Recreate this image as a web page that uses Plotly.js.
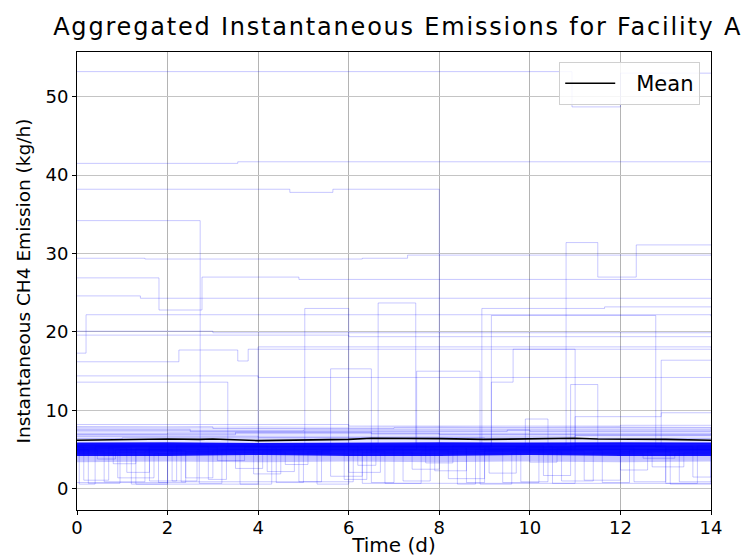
<!DOCTYPE html>
<html>
<head>
<meta charset="utf-8">
<script src="https://cdn.plot.ly/plotly-3.0.1.min.js"></script>
<style>
  html, body { margin: 0; padding: 0; background: #fff; }
  #chart { width: 749px; height: 557px; }
  .gtitle { letter-spacing: 1.8px; }
</style>
</head>
<body>
<div id="chart"></div>
<script>
// ---- Axis ticks ----
const xTicks = [0, 2, 4, 6, 8, 10, 12, 14];
const yTicks = [0, 10, 20, 30, 40, 50];

// ---- Mean of all realisations (kg/h) ----
const meanX = [0, 1, 2, 2.7, 3, 4, 5, 6, 6.5, 7, 8, 9, 10, 11, 11.5, 12, 13, 14];
const meanY = [6.2, 6.3, 6.35, 6.3, 6.35, 6.15, 6.25, 6.3, 6.45, 6.45, 6.4, 6.3, 6.35, 6.45, 6.35, 6.35, 6.3, 6.2];

// ---- Dense core of the realisations ----
const bandX  = [0, 2, 4, 6, 8, 10, 12, 14];
const bandLo = [4.2, 4.2, 4.3, 4.2, 4.2, 4.3, 4.2, 4.2];
const bandHi = [5.9, 5.95, 5.85, 5.9, 5.95, 5.9, 5.95, 5.9];
// lighter fringes either side of the core
const fringeTopHi = [8.0, 7.9, 8.0, 7.9, 8.0, 7.9, 8.0, 7.9];
const fringeLowLo = [3.4, 3.5, 3.4, 3.5, 3.4, 3.5, 3.4, 3.5];

// ---- Individual high-emission realisations (step functions) ----
const run01X = [0, 10.93, 12.0, 14],            run01Y = [53.2, 48.7, 53.0, 53.0];
const run02X = [0, 3.55, 14],                   run02Y = [41.5, 41.7, 41.7];
const run03X = [0, 4.7, 5.65, 8.0, 14],         run03Y = [38.2, 37.8, 38.2, 5.8, 5.8];
const run04X = [0, 2.72, 14],                   run04Y = [34.2, 5.4, 5.4];
const run05X = [0, 1.5, 6.3, 7.3, 14],          run05Y = [29.4, 29.3, 29.4, 29.8, 29.9];
const run06X = [0, 1.81, 2.76, 4.9, 14],        run06Y = [26.9, 22.8, 27.0, 26.7, 26.6];
const run07X = [0, 1.4, 14],                    run07Y = [24.6, 24.3, 24.3];
const run08X = [0, 0.2, 14],                    run08Y = [17.3, 22.2, 22.0];
const run09X = [0, 10.8, 11.5, 12.35, 14],      run09Y = [5.6, 31.4, 27.0, 31.1, 31.1];
const run10X = [0, 5.03, 6.0, 14],              run10Y = [5.2, 23.0, 5.2, 5.2];
const run11X = [0, 2.25, 3.55, 3.78, 14],       run11Y = [16.2, 17.7, 16.3, 17.8, 17.8];
const run12X = [0, 6.0, 14],                    run12Y = [19.6, 19.4, 19.4];
const run13X = [0, 3.0, 14],                    run13Y = [20.1, 19.9, 19.9];
const run14X = [0, 4.0, 14],                    run14Y = [14.4, 14.2, 14.2];
const run15X = [0, 3.33, 14],                   run15Y = [13.6, 5.0, 5.0];
const run16X = [0, 6.65, 7.48, 14],             run16Y = [5.8, 23.7, 5.8, 5.8];
const run17X = [0, 5.6, 6.5, 14],               run17Y = [4.8, 15.3, 4.8, 4.8];
const run18X = [0, 7.5, 8.9, 14],               run18Y = [5.0, 15.0, 5.0, 5.0];
const run19X = [0, 9.15, 12.78, 14],            run19Y = [5.3, 22.1, 5.3, 5.3];
const run20X = [0, 9.15, 9.63, 11.0, 14],       run20Y = [5.5, 13.6, 17.8, 5.5, 5.5];
const run21X = [0, 8.94, 11.65, 14],            run21Y = [5.7, 23.0, 23.2, 23.2];
const run22X = [0, 11.0, 12.9, 14],             run22Y = [5.2, 9.2, 9.7, 9.7];
const run23X = [0, 9.9, 10.4, 14],              run23Y = [5.4, 8.9, 5.4, 5.4];
const run24X = [0, 10.9, 11.5, 14],             run24Y = [5.0, 13.3, 5.0, 5.0];
const run25X = [0, 4.0, 14],                    run25Y = [5.6, 18.1, 18.0];
const run26X = [0, 12.9, 14],                   run26Y = [5.4, 16.4, 16.4];

// ---- Realisations just above the core ----
const hz01X = [0, 3, 7, 14],  hz01Y = [7.9, 7.7, 7.8, 7.6];
const hz02X = [0, 5, 10, 14], hz02Y = [7.4, 7.5, 7.3, 7.3];
const hz03X = [0, 2, 8, 14],  hz03Y = [7.0, 7.1, 6.9, 7.0];
const hz04X = [0, 4, 11, 14], hz04Y = [6.7, 6.6, 6.8, 6.8];
const hz05X = [0, 6, 12, 14], hz05Y = [8.2, 8.0, 8.1, 8.1];
const hz06X = [0, 1, 9, 14],  hz06Y = [6.4, 6.5, 6.4, 6.4];
const hz07X = [0, 2.5, 9.5, 14], hz07Y = [7.6, 7.3, 7.5, 7.4];
const hz08X = [0, 3.5, 6.5, 14], hz08Y = [6.9, 7.2, 7.0, 7.1];

// ---- Realisations with shut-in periods (dips) ----
const dip01X = [0, 0.25, 0.95, 2.1, 2.65, 5.3, 6.0, 9.4, 10.2, 14];
const dip01Y = [5.0, 0.7, 5.0, 1.0, 5.0, 0.6, 5.0, 0.8, 5.0, 5.0];
const dip02X = [0, 0.6, 1.5, 3.5, 4.1, 6.8, 7.6, 11.2, 12.0, 13.1, 14];
const dip02Y = [4.8, 0.9, 4.8, 2.6, 4.8, 0.7, 4.8, 1.1, 4.8, 0.6, 4.8];
const dip03X = [0, 1.1, 1.6, 4.4, 5.0, 7.9, 8.6, 12.3, 13.0, 14];
const dip03Y = [5.2, 2.1, 5.2, 0.8, 5.2, 2.3, 5.2, 0.9, 5.2, 5.2];
const dip04X = [0, 0.05, 0.4, 2.9, 3.3, 6.2, 6.6, 10.5, 11.0, 13.6, 14];
const dip04Y = [5.4, 0.6, 5.4, 1.2, 5.4, 3.0, 5.4, 0.7, 5.4, 1.5, 5.4];
const dip05X = [0, 1.8, 2.4, 5.6, 6.3, 8.9, 9.6, 12.7, 13.4, 14];
const dip05Y = [4.6, 0.8, 4.6, 1.6, 4.6, 0.6, 4.6, 2.8, 4.6, 4.6];
const dip06X = [0, 0.8, 1.3, 3.9, 4.5, 7.2, 7.8, 10.0, 10.6, 14];
const dip06Y = [5.1, 3.2, 5.1, 1.9, 5.1, 1.0, 5.1, 3.4, 5.1, 5.1];
const dip07X = [0, 2.4, 3.0, 4.9, 5.4, 8.2, 9.0, 11.6, 12.2, 14];
const dip07Y = [4.9, 1.4, 4.9, 0.9, 4.9, 1.3, 4.9, 0.8, 4.9, 4.9];
const dip08X = [0, 0.15, 0.7, 3.1, 3.7, 6.5, 7.0, 9.1, 9.7, 13.3, 14];
const dip08Y = [5.3, 1.1, 5.3, 3.6, 5.3, 0.8, 5.3, 2.0, 5.3, 0.9, 5.3];
const dip09X = [0, 1.3, 2.0, 4.6, 5.1, 7.4, 8.0, 10.7, 11.4, 14];
const dip09Y = [4.7, 0.6, 4.7, 3.1, 4.7, 2.5, 4.7, 1.0, 4.7, 4.7];
const dip10X = [0, 0.45, 0.85, 2.7, 3.2, 5.9, 6.4, 8.4, 8.8, 12.0, 12.6, 14];
const dip10Y = [5.0, 3.8, 5.0, 0.7, 5.0, 1.2, 5.0, 0.6, 5.0, 2.4, 5.0, 5.0];
const dip11X = [0, 1.6, 2.2, 4.2, 4.8, 7.7, 8.3, 10.3, 10.9, 13.0, 13.7, 14];
const dip11Y = [5.5, 1.0, 5.5, 2.2, 5.5, 3.3, 5.5, 1.7, 5.5, 0.7, 5.5, 5.5];
const dip12X = [0, 0.9, 1.7, 3.6, 4.0, 6.0, 6.7, 9.8, 10.4, 12.5, 13.2, 14];
const dip12Y = [4.5, 1.4, 4.5, 0.6, 4.5, 2.1, 4.5, 0.9, 4.5, 3.9, 4.5, 4.5];
const low01X = [0, 2.0, 2.3, 6.1, 6.3, 14];
const low01Y = [0.8, 5.0, 0.9, 5.0, 0.7, 0.7];
const low02X = [0, 1.2, 4.3, 8.6, 9.0, 14];
const low02Y = [5.2, 0.6, 5.2, 0.8, 5.2, 5.2];

const runs = [
  [run01X, run01Y], [run02X, run02Y], [run03X, run03Y], [run04X, run04Y],
  [run05X, run05Y], [run06X, run06Y], [run07X, run07Y], [run08X, run08Y],
  [run09X, run09Y], [run10X, run10Y], [run11X, run11Y], [run12X, run12Y],
  [run13X, run13Y], [run14X, run14Y], [run15X, run15Y], [run16X, run16Y],
  [run17X, run17Y], [run18X, run18Y], [run19X, run19Y], [run20X, run20Y],
  [run21X, run21Y], [run22X, run22Y], [run23X, run23Y], [run24X, run24Y],
  [run25X, run25Y], [run26X, run26Y],
  [hz01X, hz01Y], [hz02X, hz02Y], [hz03X, hz03Y], [hz04X, hz04Y],
  [hz05X, hz05Y], [hz06X, hz06Y], [hz07X, hz07Y], [hz08X, hz08Y],
  [dip01X, dip01Y], [dip02X, dip02Y], [dip03X, dip03Y], [dip04X, dip04Y],
  [dip05X, dip05Y], [dip06X, dip06Y], [dip07X, dip07Y], [dip08X, dip08Y],
  [dip09X, dip09Y], [dip10X, dip10Y], [dip11X, dip11Y], [dip12X, dip12Y],
  [low01X, low01Y], [low02X, low02Y]
];

const clear = {width: 0, color: 'rgba(0,0,255,0)'};
const traces = [];
// faint fringe above the core
traces.push({x: bandX, y: bandHi, mode: 'lines', line: clear, showlegend: false, hoverinfo: 'skip'});
traces.push({x: bandX, y: fringeTopHi, mode: 'lines', fill: 'tonexty', fillcolor: 'rgba(0,0,255,0.10)',
  line: clear, showlegend: false, hoverinfo: 'skip'});
// faint fringe below the core
traces.push({x: bandX, y: fringeLowLo, mode: 'lines', line: clear, showlegend: false, hoverinfo: 'skip'});
traces.push({x: bandX, y: bandLo, mode: 'lines', fill: 'tonexty', fillcolor: 'rgba(0,0,255,0.22)',
  line: clear, showlegend: false, hoverinfo: 'skip'});
// solid core
traces.push({x: bandX, y: bandHi, mode: 'lines', fill: 'tonexty', fillcolor: 'rgba(0,0,255,0.92)',
  line: clear, showlegend: false, hoverinfo: 'skip'});
runs.forEach(function (r) {
  traces.push({
    x: r[0], y: r[1], mode: 'lines',
    line: {shape: 'hv', width: 1, color: 'rgba(0,0,255,0.22)'},
    showlegend: false, hoverinfo: 'skip'
  });
});
traces.push({
  x: meanX, y: meanY, mode: 'lines', name: 'Mean',
  line: {color: '#000000', width: 1.6}
});

const axisFont = {family: 'DejaVu Sans', size: 18, color: '#000'};
const layout = {
  width: 749, height: 557,
  paper_bgcolor: '#ffffff', plot_bgcolor: '#ffffff',
  margin: {l: 77, r: 38, t: 52, b: 47},
  font: {family: 'DejaVu Sans', color: '#000'},
  title: {
    text: 'Aggregated Instantaneous Emissions for Facility A',
    font: {family: 'DejaVu Sans', size: 24, color: '#000'},
    x: 0.531, xref: 'container', xanchor: 'center',
    y: 0.953, yref: 'container', yanchor: 'middle'
  },
  xaxis: {
    range: [0, 14], tickvals: xTicks, ticktext: xTicks.map(String),
    showgrid: true, gridcolor: '#b4b4b4', gridwidth: 1, zeroline: false,
    showline: true, linecolor: '#000', linewidth: 1, mirror: true,
    ticks: 'outside', ticklen: 4, tickcolor: '#000', tickfont: axisFont,
    ticklabelstandoff: -3,
    title: {text: 'Time (d)', font: {family: 'DejaVu Sans', size: 20, color: '#000'}, standoff: 6}
  },
  yaxis: {
    range: [-2.7, 55.7], tickvals: yTicks, ticktext: yTicks.map(String),
    showgrid: true, gridcolor: '#c4c4c4', gridwidth: 1, zeroline: false,
    showline: true, linecolor: '#000', linewidth: 1, mirror: true,
    ticks: 'outside', ticklen: 4, tickcolor: '#000', tickfont: axisFont,
    title: {text: 'Instantaneous CH4 Emission (kg/h)', font: {family: 'DejaVu Sans', size: 18.5, color: '#000'}, standoff: 10}
  },
  legend: {
    x: 0.983, xanchor: 'right', y: 0.978, yanchor: 'top',
    bgcolor: 'rgba(255,255,255,0.85)', bordercolor: '#d0d0d0', borderwidth: 1,
    itemwidth: 66,
    font: {family: 'DejaVu Sans', size: 21, color: '#000'}
  },
  showlegend: true
};

Plotly.newPlot('chart', traces, layout, {displayModeBar: false, staticPlot: true}).then(function (gd) {
  // lengthen the legend line sample to match the reference key
  gd.querySelectorAll('.legend .legendlines path').forEach(function (p) {
    p.setAttribute('d', 'M5,0h50');
  });
});
</script>
</body>
</html>
